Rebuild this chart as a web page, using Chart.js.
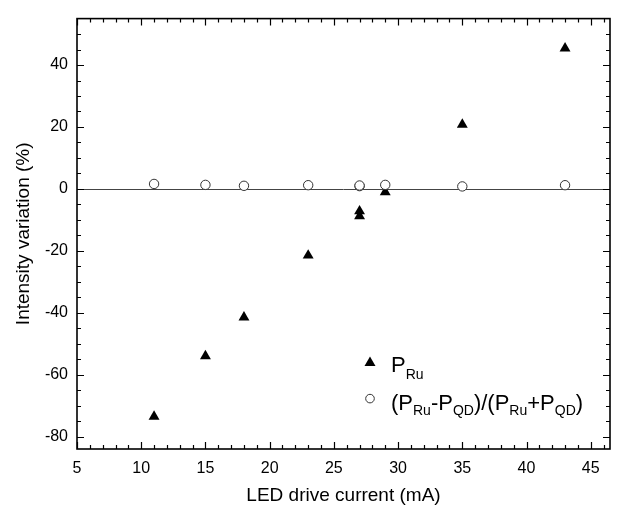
<!DOCTYPE html>
<html>
<head>
<meta charset="utf-8">
<script src="https://cdn.jsdelivr.net/npm/chart.js@4/dist/chart.umd.min.js"></script>
<style>
  html, body { margin: 0; padding: 0; background: #fff; }
  #wrap { width: 617px; height: 509px; }
</style>
</head>
<body>
<div id="wrap"><canvas id="chart" width="617" height="509"></canvas></div>
<script>
// LED drive current (mA) for each measurement
const currents = [11, 15, 18, 23, 27, 27, 29, 35, 43];
// P_Ru intensity variation (%)
const pRu = [-73.5, -54, -41.5, -21.5, -7.2, -8.8, -1.0, 20.8, 45.4];
// (P_Ru-P_QD)/(P_Ru+P_QD) variation (%)
const ratio = [1.6, 1.3, 1.0, 1.2, 0.9, 1.1, 1.3, 0.8, 1.2];

const xTicks = [5, 10, 15, 20, 25, 30, 35, 40, 45];
const yTicks = [-80, -60, -40, -20, 0, 20, 40];
const xRange = [5, 46.5];
const yRange = [-84, 55];
const xMinorStep = 1;
const yMinorStep = 5;

// legend text pieces: [text, isSubscript]
const legendPRu = [["P", 0], ["Ru", 1]];
const legendRatio = [["(P", 0], ["Ru", 1], ["-P", 0], ["QD", 1], [")/(P", 0], ["Ru", 1], ["+P", 0], ["QD", 1], [")", 0]];

const FONT = "'Liberation Sans', Arial, sans-serif";

// frame, zero line and inward ticks (Origin style)
const framePlugin = {
  id: "frame",
  beforeDatasetsDraw(chart) {
    const { ctx, chartArea: a, scales: { y } } = chart;
    const py = Math.round(y.getPixelForValue(0)) + 0.5;
    ctx.save();
    ctx.strokeStyle = "#444";
    ctx.lineWidth = 1;
    ctx.beginPath();
    ctx.moveTo(a.left, py);
    ctx.lineTo(a.right, py);
    ctx.stroke();
    ctx.restore();
  },
  afterDatasetsDraw(chart) {
    const { ctx, chartArea: a, scales: { x, y } } = chart;
    ctx.save();
    ctx.strokeStyle = "#000";
    ctx.lineWidth = 1.2;
    ctx.beginPath();
    for (let v = xRange[0]; v < xRange[1]; v += xMinorStep) {
      const px = Math.round(x.getPixelForValue(v)) + 0.5;
      const len = xTicks.includes(v) ? 7 : 4;
      ctx.moveTo(px, a.bottom); ctx.lineTo(px, a.bottom - len);
      ctx.moveTo(px, a.top); ctx.lineTo(px, a.top + len);
    }
    for (let v = -80; v < yRange[1]; v += yMinorStep) {
      const py = Math.round(y.getPixelForValue(v)) + 0.5;
      const len = yTicks.includes(v) ? 7 : 4;
      ctx.moveTo(a.left, py); ctx.lineTo(a.left + len, py);
      ctx.moveTo(a.right, py); ctx.lineTo(a.right - len, py);
    }
    ctx.stroke();
    ctx.lineWidth = 1.6;
    ctx.strokeRect(a.left, a.top, a.width, a.height);
    ctx.restore();
  }
};

// legend with subscripts
function drawPieces(ctx, pieces, x, y, subDrop) {
  pieces.forEach(([t, sub]) => {
    ctx.font = (sub ? "14px " : "22px ") + FONT;
    ctx.fillText(t, x, sub ? y + subDrop : y);
    x += ctx.measureText(t).width;
  });
}

const legendPlugin = {
  id: "subLegend",
  afterDraw(chart) {
    const { ctx, chartArea: a } = chart;
    const mx = a.left + 293, tx = a.left + 314;
    const y1 = a.top + 343, y2 = a.top + 380;
    ctx.save();
    ctx.fillStyle = "#000";
    // triangle marker
    ctx.beginPath();
    ctx.moveTo(mx, y1 - 5);
    ctx.lineTo(mx + 5.5, y1 + 4.5);
    ctx.lineTo(mx - 5.5, y1 + 4.5);
    ctx.closePath();
    ctx.fill();
    // circle marker
    ctx.beginPath();
    ctx.arc(mx, y2, 4.3, 0, Math.PI * 2);
    ctx.strokeStyle = "#333";
    ctx.lineWidth = 1;
    ctx.stroke();
    ctx.textBaseline = "alphabetic";
    drawPieces(ctx, legendPRu, tx, y1 + 10, 7);
    drawPieces(ctx, legendRatio, tx, y2 + 11, 5);
    ctx.restore();
  }
};

new Chart(document.getElementById("chart"), {
  type: "scatter",
  data: {
    datasets: [
      {
        label: "(P_Ru-P_QD)/(P_Ru+P_QD)",
        data: currents.map((c, i) => ({ x: c, y: ratio[i] })),
        pointStyle: "circle",
        pointRadius: 4.7,
        backgroundColor: "#fff",
        borderColor: "#333",
        borderWidth: 1,
        order: 0
      },
      {
        label: "P_Ru",
        data: currents.map((c, i) => ({ x: c, y: pRu[i] })),
        pointStyle: "triangle",
        pointRadius: 6.3,
        backgroundColor: "#000",
        borderColor: "#000",
        borderWidth: 0,
        order: 1
      }
    ]
  },
  options: {
    responsive: false,
    animation: false,
    layout: { padding: { left: 6, right: 7, top: 13, bottom: 0 } },
    plugins: {
      legend: { display: false },
      tooltip: { enabled: false }
    },
    scales: {
      x: {
        type: "linear",
        min: xRange[0],
        max: xRange[1],
        afterBuildTicks: s => { s.ticks = xTicks.map(v => ({ value: v })); },
        afterFit: s => { s.height = 60; },
        grid: { display: false, drawTicks: false },
        border: { display: false },
        ticks: { padding: 10, color: "#000", font: { family: FONT, size: 16 } },
        title: {
          display: true,
          text: "LED drive current (mA)",
          color: "#000",
          font: { family: FONT, size: 19 },
          padding: { top: 0, bottom: 2 }
        }
      },
      y: {
        type: "linear",
        min: yRange[0],
        max: yRange[1],
        afterBuildTicks: s => { s.ticks = yTicks.map(v => ({ value: v })); },
        afterFit: s => { s.width = 71; },
        grid: { display: false, drawTicks: false },
        border: { display: false },
        ticks: { padding: 9, color: "#000", font: { family: FONT, size: 16 } },
        title: {
          display: true,
          text: "Intensity variation (%)",
          color: "#000",
          font: { family: FONT, size: 19 },
          padding: { top: 6, bottom: 0 }
        }
      }
    }
  },
  plugins: [framePlugin, legendPlugin]
});
</script>
</body>
</html>
